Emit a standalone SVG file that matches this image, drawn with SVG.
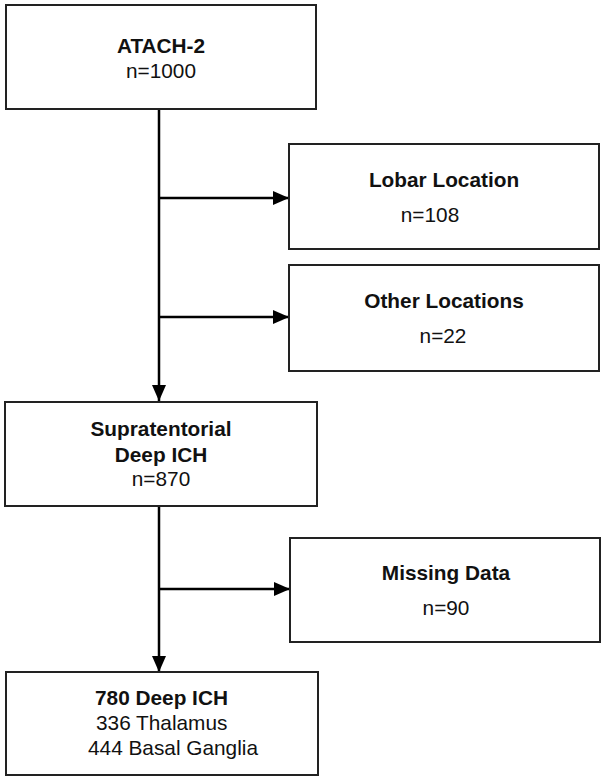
<svg xmlns="http://www.w3.org/2000/svg" width="604" height="780" viewBox="0 0 604 780">
<style>
.box{fill:#fff;stroke:#222;stroke-width:2}
.t{font-family:"Liberation Sans",Arial,sans-serif;font-size:20.8px;fill:#111}
.b{font-weight:bold}
.c{text-anchor:middle}
.ln{stroke:#000;stroke-width:2.5;fill:none}
</style>
<defs>
<marker id="ah" viewBox="0 0 16 14" refX="16" refY="7" markerWidth="16" markerHeight="14" markerUnits="userSpaceOnUse" orient="auto">
<path d="M0,0 L16,7 L0,14 Z" fill="#000"/>
</marker>
</defs>
<rect width="604" height="780" fill="#fff"/>
<g id="connectors">
<line class="ln" x1="159" y1="109" x2="159" y2="401" marker-end="url(#ah)"/>
<line class="ln" x1="159" y1="198" x2="289" y2="198" marker-end="url(#ah)"/>
<line class="ln" x1="159" y1="317" x2="289" y2="317" marker-end="url(#ah)"/>
<line class="ln" x1="159" y1="506" x2="159" y2="672" marker-end="url(#ah)"/>
<line class="ln" x1="159" y1="589" x2="290" y2="589" marker-end="url(#ah)"/>
</g>
<g id="atach">
<rect class="box" x="6" y="5" width="310" height="104"/>
<text class="t b c" x="161" y="53">ATACH-2</text>
<text class="t c" x="161" y="78">n=1000</text>
</g>
<g id="lobar">
<rect class="box" x="289" y="144" width="310" height="105"/>
<text class="t b c" x="444" y="187">Lobar Location</text>
<text class="t c" x="430" y="222">n=108</text>
</g>
<g id="other">
<rect class="box" x="289" y="265" width="310" height="106"/>
<text class="t b c" x="444" y="308">Other Locations</text>
<text class="t c" x="443" y="343">n=22</text>
</g>
<g id="supra">
<rect class="box" x="5" y="402" width="312" height="104"/>
<text class="t b c" x="161" y="436">Supratentorial</text>
<text class="t b c" x="161" y="462">Deep ICH</text>
<text class="t c" x="161" y="486">n=870</text>
</g>
<g id="missing">
<rect class="box" x="290" y="538" width="310" height="104"/>
<text class="t b c" x="446" y="580">Missing Data</text>
<text class="t c" x="446" y="615">n=90</text>
</g>
<g id="deep">
<rect class="box" x="6" y="672" width="312" height="103"/>
<text class="t b" x="95" y="705">780 Deep ICH</text>
<text class="t" x="96" y="730">336 Thalamus</text>
<text class="t" x="88" y="755">444 Basal Ganglia</text>
</g>
</svg>
